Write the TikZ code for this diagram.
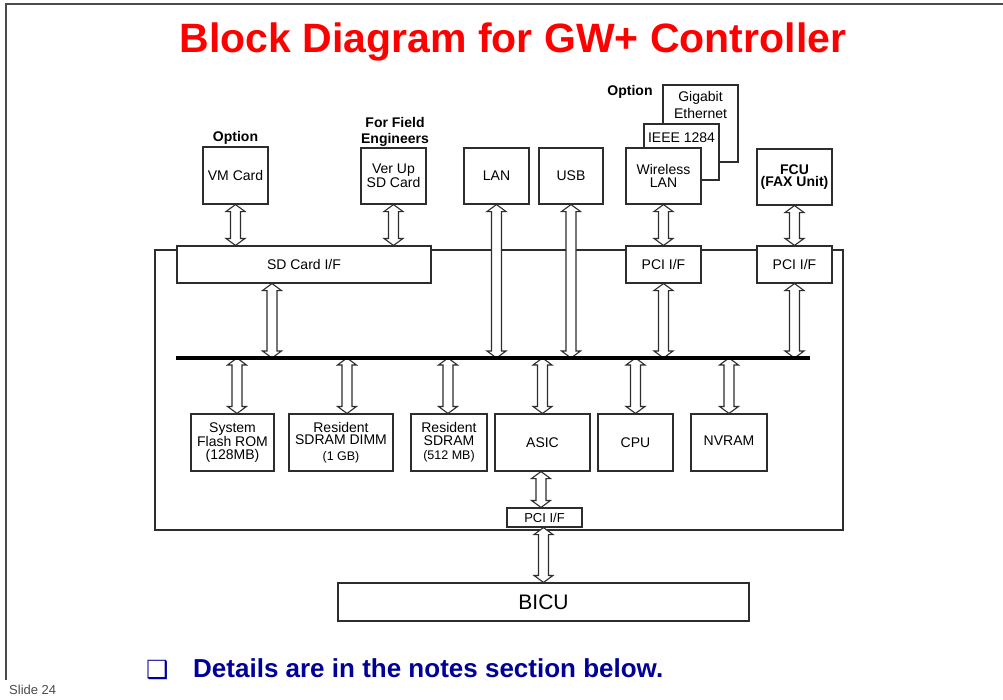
\documentclass[tikz,border=0pt]{standalone}
\usepackage{fontspec}
\setmainfont{Liberation Sans}
\newfontfamily\bulletfont{DejaVu Sans}
\usetikzlibrary{calc}

\definecolor{titlered}{RGB}{255,0,0}
\definecolor{notenavy}{RGB}{0,0,153}
\definecolor{ink}{RGB}{45,45,45}
\definecolor{framegray}{RGB}{75,75,75}

\newcommand\blkfont{\fontsize{14}{12.5}\selectfont}
\newcommand\tagfont{\fontsize{14}{16}\selectfont\bfseries}

\tikzset{
  blk/.style={draw=ink, fill=white, line width=1.1pt, inner sep=0pt,
              align=center, font=\blkfont},
  tag/.style={font=\tagfont, align=center, inner sep=0pt},
  link/.style={draw=ink, fill=white, line width=1.1pt, line join=miter},
  bus/.style={line width=4pt, black},
  frame/.style={draw=framegray, line width=1.5pt},
}

% hollow double-headed bus arrow: x (plus optional shift) and top end from #2, bottom end from #3
\newcommand\dlink[3][0]{%
  \draw[link] let \p1=($(#2)+(#1pt,0pt)$), \p2=(#3) in
    (\x1,\y1) -- (\x1+9.5pt,\y1-7pt) -- (\x1+5pt,\y1-7pt)
    -- (\x1+5pt,\y2+7pt) -- (\x1+9.5pt,\y2+7pt) -- (\x1,\y2)
    -- (\x1-9.5pt,\y2+7pt) -- (\x1-5pt,\y2+7pt)
    -- (\x1-5pt,\y1-7pt) -- (\x1-9.5pt,\y1-7pt) -- cycle;}

\begin{document}
\begin{tikzpicture}[x=1pt,y=-1pt]
\useasboundingbox (0,0) rectangle (1003,699);

% slide frame
\draw[frame] (1003,4) -- (6,4) -- (6,680);

% title
\node[anchor=base, inner sep=0pt, text=titlered,
      font=\fontsize{41}{41}\selectfont\bfseries] (title) at (513,52)
  {Block Diagram for GW+ Controller};

% controller board outline
\draw[ink, line width=1.1pt] (155,250) rectangle (843,530);

% external / option units
\node[blk, minimum width=65pt, minimum height=57pt] (vm) at (235.5,175.5) {VM Card};
\node[tag] (opt1) at (235.5,138) {Option};
\node[blk, minimum width=65pt, minimum height=56pt] (verup) at (393.5,176) {Ver Up\\SD Card};
\node[tag] (fe) at (395,132) {For Field\\Engineers};
\node[blk, minimum width=65pt, minimum height=56pt] (lan) at (496.5,176) {LAN};
\node[blk, minimum width=64pt, minimum height=56pt] (usb) at (571,176) {USB};

\node[blk, minimum width=75pt, minimum height=77pt] (giga) at (700.5,123.5) {};
\node[inner sep=0pt, align=center, font=\fontsize{14}{17}\selectfont] (gigatext) at (700.5,104.5) {Gigabit\\Ethernet};
\node[blk, minimum width=75pt, minimum height=56pt] (ieee) at (681.5,152) {};
\node[inner sep=0pt, font=\blkfont] (ieeetext) at (681.5,138) {IEEE 1284};
\node[blk, minimum width=75pt, minimum height=56pt] (wlan) at (663.5,176) {Wireless\\LAN};
\node[tag] (opt2) at (630,92) {Option};

\node[blk, minimum width=75pt, minimum height=56pt, font=\blkfont\bfseries] (fcu) at (794.5,177) {FCU\\(FAX Unit)};

% interfaces on the board edge
\node[blk, minimum width=254pt, minimum height=37pt] (sdif) at (304,264.5) {SD Card I/F};
\node[blk, minimum width=75pt, minimum height=37pt] (pci1) at (663.5,264.5) {PCI I/F};
\node[blk, minimum width=75pt, minimum height=37pt] (pci2) at (794.5,264.5) {PCI I/F};

% devices on the internal bus
\node[blk, minimum width=83pt, minimum height=57pt] (flash) at (232.5,442.5) {System\\Flash ROM\\(128MB)};
\node[blk, minimum width=104pt, minimum height=57pt] (dimm) at (341,442.5)
  {Resident\\SDRAM DIMM\\[3pt]{\fontsize{12.5}{12.5}\selectfont(1 GB)}};
\node[blk, minimum width=76pt, minimum height=57pt] (rsdram) at (449,442.5)
  {Resident\\SDRAM\\[2pt]{\fontsize{12.5}{12.5}\selectfont(512 MB)}};
\node[blk, minimum width=95pt, minimum height=57pt] (asic) at (542.5,442.5) {ASIC};
\node[blk, minimum width=75pt, minimum height=57pt] (cpu) at (635.5,442.5) {CPU};
\node[blk, minimum width=76pt, minimum height=57pt] (nvram) at (729,442.5) {\raisebox{3pt}{NVRAM}};

\node[blk, minimum width=75pt, minimum height=19pt, font=\fontsize{13}{13}\selectfont] (pcib) at (544.5,517.5) {PCI I/F};
\node[blk, minimum width=411pt, minimum height=38pt, font=\fontsize{21}{21}\selectfont] (bicu) at (543.5,602) {BICU};

% bus ends
\coordinate (busW) at (176,358);
\coordinate (busE) at (810,358);

% connections
\dlink{vm.south}{sdif.north}
\dlink{verup.south}{sdif.north}
\dlink[-32]{sdif.south}{busW}
\dlink{lan.south}{busW}
\dlink{usb.south}{busW}
\dlink{wlan.south}{pci1.north}
\dlink{pci1.south}{busW}
\dlink{fcu.south}{pci2.north}
\dlink{pci2.south}{busW}

\dlink[4.5]{flash.north |- busW}{flash.north}
\dlink[6]{dimm.north |- busW}{dimm.north}
\dlink[-1]{rsdram.north |- busW}{rsdram.north}
\dlink{asic.north |- busW}{asic.north}
\dlink{cpu.north |- busW}{cpu.north}
\dlink{nvram.north |- busW}{nvram.north}
\dlink[-1.5]{asic.south}{pcib.north}
\dlink[-1]{pcib.south}{bicu.north}

% internal bus
\draw[bus] (busW) -- (busE);

% footer
\node[anchor=base west, inner sep=0pt, text=notenavy,
      font=\bulletfont\fontsize{25}{25}\selectfont] (bullet) at (146,678) {❑};
\node[anchor=base west, inner sep=0pt, text=notenavy,
      font=\fontsize{26}{26}\selectfont\bfseries] (note) at (193,677)
  {Details are in the notes section below.};
\node[anchor=base west, inner sep=0pt, text=framegray,
      font=\fontsize{13}{13}\selectfont] (slideno) at (9,694) {Slide 24};
\end{tikzpicture}
\end{document}
